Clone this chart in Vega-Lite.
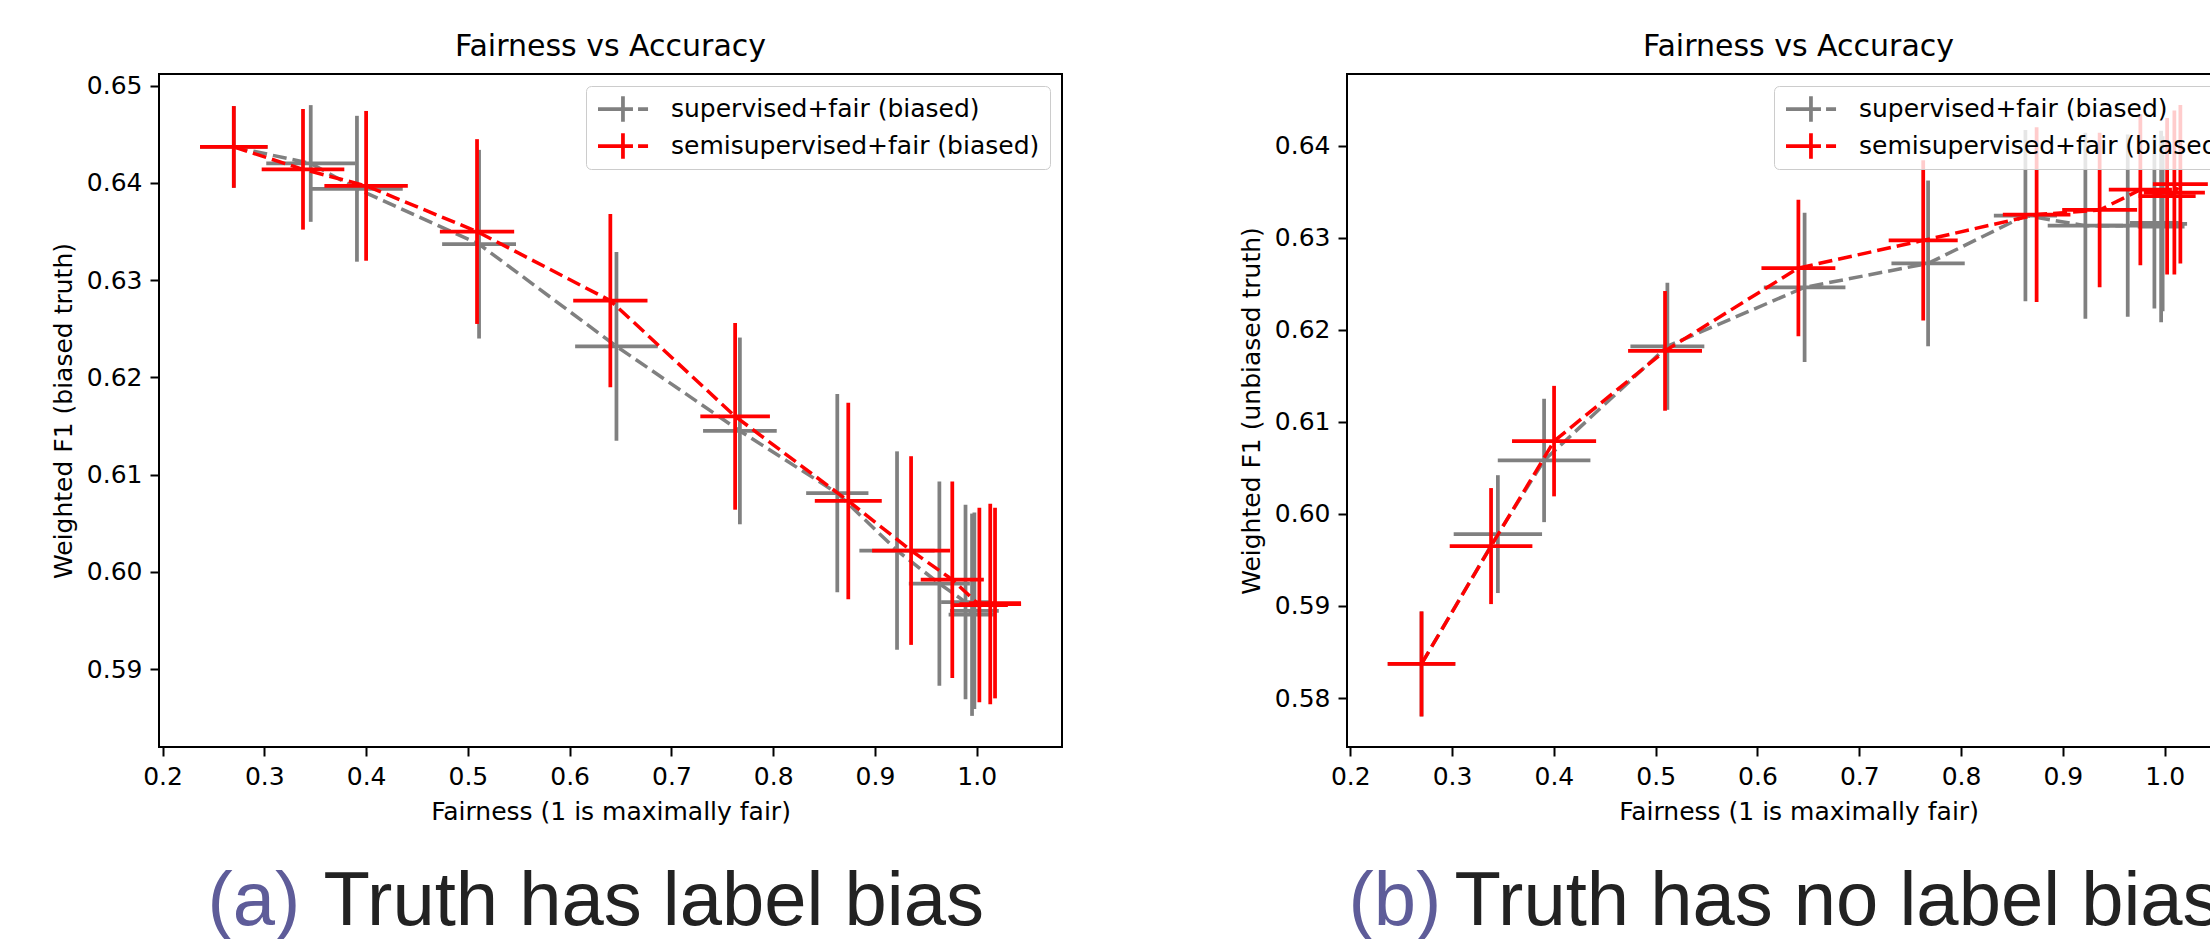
{
  "$schema": "https://vega.github.io/schema/vega-lite/v6.json",
  "background": "white",
  "padding": {"left": 50, "top": 30, "right": 0, "bottom": 0},
  "config": {
    "view": {"stroke": "black", "strokeWidth": 2},
    "axis": {
      "domain": false, "grid": false,
      "tickColor": "black", "tickSize": 9, "tickWidth": 2,
      "labelFont": "DejaVu Sans", "labelFontSize": 25, "labelColor": "black", "labelPadding": 8,
      "titleFont": "DejaVu Sans", "titleFontSize": 25, "titleFontWeight": "normal", "titleColor": "black", "titlePadding": 10
    },
    "title": {"font": "DejaVu Sans", "fontSize": 30, "fontWeight": "normal", "color": "black", "anchor": "middle", "offset": 12},
    "legend": {
      "orient": "top-right", "offset": 12, "title": null,
      "labelFont": "DejaVu Sans", "labelFontSize": 25, "labelColor": "black", "labelLimit": 1000, "labelOffset": 45,
      "symbolType": "M-1,0L1.69,0M2.08,0L2.85,0M0.92,-0.98L0.92,0.98", "symbolSize": 676, "symbolStrokeWidth": 3.75,
      "clipHeight": 26,
      "padding": 10, "rowPadding": 11,
      "fillColor": "rgba(255,255,255,0.8)", "strokeColor": "#cccccc", "cornerRadius": 5
    }
  },
  "datasets": {
    "pts": [
      {"panel": "a", "series": "supervised+fair (biased)", "step": 1, "fairness": 0.270, "f1": 0.6437, "f1_low": 0.6395, "f1_high": 0.6479, "fair_low": 0.2368, "fair_high": 0.3032},
      {"panel": "a", "series": "supervised+fair (biased)", "step": 2, "fairness": 0.3456, "f1": 0.6420, "f1_low": 0.6360, "f1_high": 0.6480, "fair_low": 0.3019, "fair_high": 0.3893},
      {"panel": "a", "series": "supervised+fair (biased)", "step": 3, "fairness": 0.391, "f1": 0.6394, "f1_low": 0.6319, "f1_high": 0.6469, "fair_low": 0.346, "fair_high": 0.436},
      {"panel": "a", "series": "supervised+fair (biased)", "step": 4, "fairness": 0.511, "f1": 0.6337, "f1_low": 0.6240, "f1_high": 0.6434, "fair_low": 0.4747, "fair_high": 0.5473},
      {"panel": "a", "series": "supervised+fair (biased)", "step": 5, "fairness": 0.646, "f1": 0.6232, "f1_low": 0.6135, "f1_high": 0.6329, "fair_low": 0.6054, "fair_high": 0.6866},
      {"panel": "a", "series": "supervised+fair (biased)", "step": 6, "fairness": 0.7673, "f1": 0.6145, "f1_low": 0.6049, "f1_high": 0.6241, "fair_low": 0.7311, "fair_high": 0.8035},
      {"panel": "a", "series": "supervised+fair (biased)", "step": 7, "fairness": 0.863, "f1": 0.6081, "f1_low": 0.5979, "f1_high": 0.6183, "fair_low": 0.8324, "fair_high": 0.8936},
      {"panel": "a", "series": "supervised+fair (biased)", "step": 8, "fairness": 0.9217, "f1": 0.6022, "f1_low": 0.5920, "f1_high": 0.6124, "fair_low": 0.8847, "fair_high": 0.9587},
      {"panel": "a", "series": "supervised+fair (biased)", "step": 9, "fairness": 0.9633, "f1": 0.5988, "f1_low": 0.5883, "f1_high": 0.6093, "fair_low": 0.9333, "fair_high": 0.9933},
      {"panel": "a", "series": "supervised+fair (biased)", "step": 10, "fairness": 0.989, "f1": 0.5969, "f1_low": 0.5869, "f1_high": 0.6069, "fair_low": 0.965, "fair_high": 1.013},
      {"panel": "a", "series": "supervised+fair (biased)", "step": 11, "fairness": 0.9954, "f1": 0.5956, "f1_low": 0.5852, "f1_high": 0.6060, "fair_low": 0.9724, "fair_high": 1.0184},
      {"panel": "a", "series": "supervised+fair (biased)", "step": 12, "fairness": 0.9977, "f1": 0.5960, "f1_low": 0.5859, "f1_high": 0.6061, "fair_low": 0.9737, "fair_high": 1.0217},
      {"panel": "a", "series": "semisupervised+fair (biased)", "step": 1, "fairness": 0.270, "f1": 0.6437, "f1_low": 0.6395, "f1_high": 0.6479, "fair_low": 0.2368, "fair_high": 0.3032},
      {"panel": "a", "series": "semisupervised+fair (biased)", "step": 2, "fairness": 0.338, "f1": 0.6414, "f1_low": 0.6352, "f1_high": 0.6476, "fair_low": 0.2974, "fair_high": 0.3786},
      {"panel": "a", "series": "semisupervised+fair (biased)", "step": 3, "fairness": 0.400, "f1": 0.6397, "f1_low": 0.6320, "f1_high": 0.6474, "fair_low": 0.359, "fair_high": 0.441},
      {"panel": "a", "series": "semisupervised+fair (biased)", "step": 4, "fairness": 0.509, "f1": 0.6350, "f1_low": 0.6255, "f1_high": 0.6445, "fair_low": 0.4725, "fair_high": 0.5455},
      {"panel": "a", "series": "semisupervised+fair (biased)", "step": 5, "fairness": 0.640, "f1": 0.6279, "f1_low": 0.6190, "f1_high": 0.6368, "fair_low": 0.6035, "fair_high": 0.6765},
      {"panel": "a", "series": "semisupervised+fair (biased)", "step": 6, "fairness": 0.7626, "f1": 0.6160, "f1_low": 0.6064, "f1_high": 0.6256, "fair_low": 0.7284, "fair_high": 0.7968},
      {"panel": "a", "series": "semisupervised+fair (biased)", "step": 7, "fairness": 0.8738, "f1": 0.6073, "f1_low": 0.5972, "f1_high": 0.6174, "fair_low": 0.8409, "fair_high": 0.9067},
      {"panel": "a", "series": "semisupervised+fair (biased)", "step": 8, "fairness": 0.9355, "f1": 0.6022, "f1_low": 0.5925, "f1_high": 0.6119, "fair_low": 0.8972, "fair_high": 0.9738},
      {"panel": "a", "series": "semisupervised+fair (biased)", "step": 9, "fairness": 0.976, "f1": 0.5992, "f1_low": 0.5891, "f1_high": 0.6093, "fair_low": 0.945, "fair_high": 1.007},
      {"panel": "a", "series": "semisupervised+fair (biased)", "step": 10, "fairness": 1.0026, "f1": 0.5966, "f1_low": 0.5866, "f1_high": 0.6066, "fair_low": 0.9746, "fair_high": 1.0306},
      {"panel": "a", "series": "semisupervised+fair (biased)", "step": 11, "fairness": 1.0133, "f1": 0.5967, "f1_low": 0.5864, "f1_high": 0.6070, "fair_low": 0.983, "fair_high": 1.0436},
      {"panel": "a", "series": "semisupervised+fair (biased)", "step": 12, "fairness": 1.018, "f1": 0.5968, "f1_low": 0.5870, "f1_high": 0.6066, "fair_low": 0.9925, "fair_high": 1.0435},
      {"panel": "b", "series": "supervised+fair (biased)", "step": 1, "fairness": 0.270, "f1": 0.5837, "f1_low": 0.5780, "f1_high": 0.5894, "fair_low": 0.2368, "fair_high": 0.3032},
      {"panel": "b", "series": "supervised+fair (biased)", "step": 2, "fairness": 0.345, "f1": 0.5978, "f1_low": 0.5914, "f1_high": 0.6042, "fair_low": 0.3016, "fair_high": 0.3884},
      {"panel": "b", "series": "supervised+fair (biased)", "step": 3, "fairness": 0.3904, "f1": 0.6058, "f1_low": 0.5991, "f1_high": 0.6125, "fair_low": 0.3449, "fair_high": 0.4359},
      {"panel": "b", "series": "supervised+fair (biased)", "step": 4, "fairness": 0.5115, "f1": 0.6182, "f1_low": 0.6113, "f1_high": 0.6251, "fair_low": 0.4752, "fair_high": 0.5478},
      {"panel": "b", "series": "supervised+fair (biased)", "step": 5, "fairness": 0.6463, "f1": 0.6246, "f1_low": 0.6165, "f1_high": 0.6327, "fair_low": 0.6062, "fair_high": 0.6864},
      {"panel": "b", "series": "supervised+fair (biased)", "step": 6, "fairness": 0.7676, "f1": 0.6272, "f1_low": 0.6182, "f1_high": 0.6362, "fair_low": 0.7316, "fair_high": 0.8036},
      {"panel": "b", "series": "supervised+fair (biased)", "step": 7, "fairness": 0.8632, "f1": 0.6324, "f1_low": 0.6231, "f1_high": 0.6417, "fair_low": 0.8322, "fair_high": 0.8942},
      {"panel": "b", "series": "supervised+fair (biased)", "step": 8, "fairness": 0.9221, "f1": 0.6313, "f1_low": 0.6212, "f1_high": 0.6414, "fair_low": 0.8851, "fair_high": 0.9591},
      {"panel": "b", "series": "supervised+fair (biased)", "step": 9, "fairness": 0.9637, "f1": 0.6313, "f1_low": 0.6214, "f1_high": 0.6412, "fair_low": 0.9337, "fair_high": 0.9937},
      {"panel": "b", "series": "supervised+fair (biased)", "step": 10, "fairness": 0.9899, "f1": 0.6316, "f1_low": 0.6223, "f1_high": 0.6409, "fair_low": 0.9659, "fair_high": 1.0139},
      {"panel": "b", "series": "supervised+fair (biased)", "step": 11, "fairness": 0.9965, "f1": 0.6312, "f1_low": 0.6208, "f1_high": 0.6416, "fair_low": 0.9735, "fair_high": 1.0195},
      {"panel": "b", "series": "supervised+fair (biased)", "step": 12, "fairness": 0.998, "f1": 0.6315, "f1_low": 0.6220, "f1_high": 0.6410, "fair_low": 0.974, "fair_high": 1.022},
      {"panel": "b", "series": "semisupervised+fair (biased)", "step": 1, "fairness": 0.270, "f1": 0.5837, "f1_low": 0.5780, "f1_high": 0.5894, "fair_low": 0.2368, "fair_high": 0.3032},
      {"panel": "b", "series": "semisupervised+fair (biased)", "step": 2, "fairness": 0.3383, "f1": 0.5965, "f1_low": 0.5902, "f1_high": 0.6028, "fair_low": 0.2977, "fair_high": 0.3789},
      {"panel": "b", "series": "semisupervised+fair (biased)", "step": 3, "fairness": 0.4002, "f1": 0.6079, "f1_low": 0.6019, "f1_high": 0.6139, "fair_low": 0.3589, "fair_high": 0.4415},
      {"panel": "b", "series": "semisupervised+fair (biased)", "step": 4, "fairness": 0.5092, "f1": 0.6177, "f1_low": 0.6112, "f1_high": 0.6242, "fair_low": 0.4729, "fair_high": 0.5455},
      {"panel": "b", "series": "semisupervised+fair (biased)", "step": 5, "fairness": 0.6402, "f1": 0.6267, "f1_low": 0.6193, "f1_high": 0.6341, "fair_low": 0.6039, "fair_high": 0.6765},
      {"panel": "b", "series": "semisupervised+fair (biased)", "step": 6, "fairness": 0.7628, "f1": 0.6297, "f1_low": 0.6210, "f1_high": 0.6384, "fair_low": 0.7289, "fair_high": 0.7967},
      {"panel": "b", "series": "semisupervised+fair (biased)", "step": 7, "fairness": 0.8742, "f1": 0.6325, "f1_low": 0.6230, "f1_high": 0.6420, "fair_low": 0.8410, "fair_high": 0.9074},
      {"panel": "b", "series": "semisupervised+fair (biased)", "step": 8, "fairness": 0.9361, "f1": 0.6330, "f1_low": 0.6246, "f1_high": 0.6414, "fair_low": 0.8993, "fair_high": 0.9729},
      {"panel": "b", "series": "semisupervised+fair (biased)", "step": 9, "fairness": 0.9761, "f1": 0.6352, "f1_low": 0.6270, "f1_high": 0.6434, "fair_low": 0.9451, "fair_high": 1.0071},
      {"panel": "b", "series": "semisupervised+fair (biased)", "step": 10, "fairness": 1.0024, "f1": 0.6345, "f1_low": 0.6260, "f1_high": 0.6430, "fair_low": 0.9744, "fair_high": 1.0304},
      {"panel": "b", "series": "semisupervised+fair (biased)", "step": 11, "fairness": 1.0095, "f1": 0.6349, "f1_low": 0.6260, "f1_high": 0.6438, "fair_low": 0.9795, "fair_high": 1.0395},
      {"panel": "b", "series": "semisupervised+fair (biased)", "step": 12, "fairness": 1.0154, "f1": 0.6358, "f1_low": 0.6272, "f1_high": 0.6444, "fair_low": 0.9884, "fair_high": 1.0424}
    ]
  },
  "resolve": {"scale": {"color": "independent"}, "legend": {"color": "independent"}},
  "concat": [
    {
      "width": 903, "height": 673,
      "title": "Fairness vs Accuracy",
      "data": {"name": "pts"},
      "transform": [{"filter": "datum.panel === 'a'"}],
      "encoding": {
        "color": {"field": "series", "type": "nominal",
          "scale": {"domain": ["supervised+fair (biased)", "semisupervised+fair (biased)"], "range": ["#808080", "#ff0000"]}}
      },
      "layer": [
        {"transform": [{"filter": "datum.series === 'supervised+fair (biased)'"}],
         "mark": {"type": "rule", "strokeWidth": 3.75, "clip": true},
         "encoding": {
           "x": {"field": "fair_low", "type": "quantitative", "scale": {"domain": [0.1965, 1.0838], "nice": false, "zero": false}, "axis": {"values": [0.2,0.3,0.4,0.5,0.6,0.7,0.8,0.9,1.0], "format": ".1f", "title": "Fairness (1 is maximally fair)"}},
           "x2": {"field": "fair_high"},
           "y": {"field": "f1", "type": "quantitative", "scale": {"domain": [0.5820, 0.6512], "nice": false, "zero": false}, "axis": {"values": [0.59,0.60,0.61,0.62,0.63,0.64,0.65], "format": ".2f", "title": "Weighted F1 (biased truth)"}}
         }},
        {"transform": [{"filter": "datum.series === 'supervised+fair (biased)'"}],
         "mark": {"type": "rule", "strokeWidth": 3.75, "clip": true},
         "encoding": {
           "x": {"field": "fairness", "type": "quantitative", "title": "Fairness (1 is maximally fair)"},
           "y": {"field": "f1_low", "type": "quantitative", "title": "Weighted F1 (biased truth)"},
           "y2": {"field": "f1_high"}
         }},
        {"transform": [{"filter": "datum.series === 'supervised+fair (biased)'"}],
         "mark": {"type": "line", "strokeWidth": 3.5, "strokeDash": [14, 6], "clip": true},
         "encoding": {
           "x": {"field": "fairness", "type": "quantitative", "title": "Fairness (1 is maximally fair)"},
           "y": {"field": "f1", "type": "quantitative", "title": "Weighted F1 (biased truth)"},
           "order": {"field": "step"}
         }},
        {"transform": [{"filter": "datum.series === 'semisupervised+fair (biased)'"}],
         "mark": {"type": "rule", "strokeWidth": 3.75, "clip": true},
         "encoding": {
           "x": {"field": "fair_low", "type": "quantitative", "title": "Fairness (1 is maximally fair)"},
           "x2": {"field": "fair_high"},
           "y": {"field": "f1", "type": "quantitative", "title": "Weighted F1 (biased truth)"}
         }},
        {"transform": [{"filter": "datum.series === 'semisupervised+fair (biased)'"}],
         "mark": {"type": "rule", "strokeWidth": 3.75, "clip": true},
         "encoding": {
           "x": {"field": "fairness", "type": "quantitative", "title": "Fairness (1 is maximally fair)"},
           "y": {"field": "f1_low", "type": "quantitative", "title": "Weighted F1 (biased truth)"},
           "y2": {"field": "f1_high"}
         }},
        {"transform": [{"filter": "datum.series === 'semisupervised+fair (biased)'"}],
         "mark": {"type": "line", "strokeWidth": 3.5, "strokeDash": [14, 6], "clip": true},
         "encoding": {
           "x": {"field": "fairness", "type": "quantitative", "title": "Fairness (1 is maximally fair)"},
           "y": {"field": "f1", "type": "quantitative", "title": "Weighted F1 (biased truth)"},
           "order": {"field": "step"}
         }}
      ]
    },
    {
      "width": 903, "height": 673,
      "title": "Fairness vs Accuracy",
      "data": {"name": "pts"},
      "transform": [{"filter": "datum.panel === 'b'"}],
      "encoding": {
        "color": {"field": "series", "type": "nominal",
          "scale": {"domain": ["supervised+fair (biased)", "semisupervised+fair (biased)"], "range": ["#808080", "#ff0000"]}}
      },
      "layer": [
        {"transform": [{"filter": "datum.series === 'supervised+fair (biased)'"}],
         "mark": {"type": "rule", "strokeWidth": 3.75, "clip": true},
         "encoding": {
           "x": {"field": "fair_low", "type": "quantitative", "scale": {"domain": [0.1968, 1.0838], "nice": false, "zero": false}, "axis": {"values": [0.2,0.3,0.4,0.5,0.6,0.7,0.8,0.9,1.0], "format": ".1f", "title": "Fairness (1 is maximally fair)"}},
           "x2": {"field": "fair_high"},
           "y": {"field": "f1", "type": "quantitative", "scale": {"domain": [0.57468, 0.64777], "nice": false, "zero": false}, "axis": {"values": [0.58,0.59,0.60,0.61,0.62,0.63,0.64], "format": ".2f", "title": "Weighted F1 (unbiased truth)"}}
         }},
        {"transform": [{"filter": "datum.series === 'supervised+fair (biased)'"}],
         "mark": {"type": "rule", "strokeWidth": 3.75, "clip": true},
         "encoding": {
           "x": {"field": "fairness", "type": "quantitative", "title": "Fairness (1 is maximally fair)"},
           "y": {"field": "f1_low", "type": "quantitative", "title": "Weighted F1 (unbiased truth)"},
           "y2": {"field": "f1_high"}
         }},
        {"transform": [{"filter": "datum.series === 'supervised+fair (biased)'"}],
         "mark": {"type": "line", "strokeWidth": 3.5, "strokeDash": [14, 6], "clip": true},
         "encoding": {
           "x": {"field": "fairness", "type": "quantitative", "title": "Fairness (1 is maximally fair)"},
           "y": {"field": "f1", "type": "quantitative", "title": "Weighted F1 (unbiased truth)"},
           "order": {"field": "step"}
         }},
        {"transform": [{"filter": "datum.series === 'semisupervised+fair (biased)'"}],
         "mark": {"type": "rule", "strokeWidth": 3.75, "clip": true},
         "encoding": {
           "x": {"field": "fair_low", "type": "quantitative", "title": "Fairness (1 is maximally fair)"},
           "x2": {"field": "fair_high"},
           "y": {"field": "f1", "type": "quantitative", "title": "Weighted F1 (unbiased truth)"}
         }},
        {"transform": [{"filter": "datum.series === 'semisupervised+fair (biased)'"}],
         "mark": {"type": "rule", "strokeWidth": 3.75, "clip": true},
         "encoding": {
           "x": {"field": "fairness", "type": "quantitative", "title": "Fairness (1 is maximally fair)"},
           "y": {"field": "f1_low", "type": "quantitative", "title": "Weighted F1 (unbiased truth)"},
           "y2": {"field": "f1_high"}
         }},
        {"transform": [{"filter": "datum.series === 'semisupervised+fair (biased)'"}],
         "mark": {"type": "line", "strokeWidth": 3.5, "strokeDash": [14, 6], "clip": true},
         "encoding": {
           "x": {"field": "fairness", "type": "quantitative", "title": "Fairness (1 is maximally fair)"},
           "y": {"field": "f1", "type": "quantitative", "title": "Weighted F1 (unbiased truth)"},
           "order": {"field": "step"}
         }}
      ]
    },
    {
      "width": 903, "height": 2,
      "view": {"stroke": null},
      "data": {"values": [{"prefix": "(a)", "caption": "Truth has label bias"}]},
      "layer": [
        {"mark": {"type": "text", "align": "left", "baseline": "alphabetic", "dx": -403, "font": "Liberation Sans", "fontSize": 76, "color": "#5e5c99"},
         "encoding": {"text": {"field": "prefix"}}},
        {"mark": {"type": "text", "align": "left", "baseline": "alphabetic", "dx": -287, "font": "Liberation Sans", "fontSize": 76, "color": "#222222"},
         "encoding": {"text": {"field": "caption"}}}
      ]
    },
    {
      "width": 903, "height": 2,
      "view": {"stroke": null},
      "data": {"values": [{"prefix": "(b)", "caption": "Truth has no label bias"}]},
      "layer": [
        {"mark": {"type": "text", "align": "left", "baseline": "alphabetic", "dx": -450, "font": "Liberation Sans", "fontSize": 76, "color": "#5e5c99"},
         "encoding": {"text": {"field": "prefix"}}},
        {"mark": {"type": "text", "align": "left", "baseline": "alphabetic", "dx": -344, "font": "Liberation Sans", "fontSize": 76, "color": "#222222"},
         "encoding": {"text": {"field": "caption"}}}
      ]
    }
  ],
  "columns": 2,
  "spacing": {"row": 177, "column": 285},
  "bounds": "flush"
}
